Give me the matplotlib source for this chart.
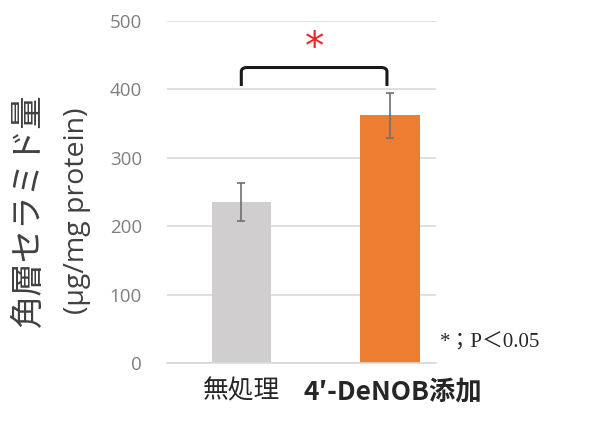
import matplotlib
matplotlib.use("Agg")
import matplotlib.pyplot as plt
from matplotlib.path import Path
from matplotlib.patches import PathPatch

groups = ["無処理", "4′-DeNOB添加"]
means = [235, 362]
errors = [28, 33]
yticks = [0, 100, 200, 300, 400, 500]

bar_colors = ["#D0CECE", "#ED7D31"]
jp = ["Noto Sans CJK JP", "DejaVu Sans"]

fig = plt.figure(figsize=(6, 4.3), dpi=100)
ax = fig.add_axes([167 / 600, 1 - 363 / 430, (436 - 167) / 600, (363 - 21) / 430])

x = list(range(len(groups)))
ax.bar(x, means, width=0.4, color=bar_colors, zorder=2)
ax.errorbar(x, means, yerr=errors, fmt="none", ecolor="#707070", elinewidth=1.2,
            capsize=3, capthick=1.2, zorder=3)

ax.set_xlim(-0.5, 1.31)
ax.set_ylim(0, 500)
ax.set_yticks(yticks)
ax.set_yticklabels([str(t) for t in yticks], fontsize=13.5, color="#7F7F7F",
                   family=["Open Sans", "DejaVu Sans"])
ax.yaxis.grid(True, color="#D9D9D9", linewidth=1.2, zorder=0)
ax.tick_params(axis="y", length=0, pad=18)
ax.tick_params(axis="x", length=0, pad=8)
ax.set_xticks(x)
ax.set_xticklabels([])
for s in ["top", "right", "left"]:
    ax.spines[s].set_visible(False)
ax.spines["bottom"].set_color("#D9D9D9")
ax.spines["bottom"].set_linewidth(1.2)

# category labels
ax.text(x[0], -42, groups[0], ha="center", va="center", fontsize=18.5,
        family=jp, color="#262626")
ax.text(x[1] + 0.02, -42, groups[1], ha="center", va="center", fontsize=19,
        family=jp, fontweight="bold", color="#262626")

# significance bracket
y_top, y_low, r = 432, 405, 6
x0, x1 = x[0], x[1] - 0.02
verts = [(x0, y_low), (x0, y_top - r), (x0, y_top), (x0 + 0.04, y_top),
         (x1 - 0.04, y_top), (x1, y_top), (x1, y_top - r), (x1, y_low)]
codes = [Path.MOVETO, Path.LINETO, Path.CURVE3, Path.CURVE3,
         Path.LINETO, Path.CURVE3, Path.CURVE3, Path.LINETO]
ax.add_patch(PathPatch(Path(verts, codes), fill=False, lw=2.2, color="#1A1A1A",
                       clip_on=False, zorder=4))
ax.text((x0 + x1) / 2, 460, "*", ha="center", va="center", fontsize=28,
        color="#E8262A", family=["DejaVu Sans"])

# p-value note
fig.text(440 / 600, 1 - 343 / 430, "*；P＜0.05", fontsize=15, ha="left", va="center",
         family=["Liberation Serif", "Noto Sans CJK JP"], color="#262626")

# y label
fig.text(28 / 600, 1 - 210 / 430, "角層セラミド量", rotation=90, fontsize=24,
         ha="center", va="center", family=jp, color="#404040")
fig.text(77 / 600, 1 - 211 / 430, "(µg/mg protein)", rotation=90, fontsize=20.5,
         ha="center", va="center", family=["Open Sans", "DejaVu Sans"], color="#404040")

fig.savefig("out.png", dpi=100)
